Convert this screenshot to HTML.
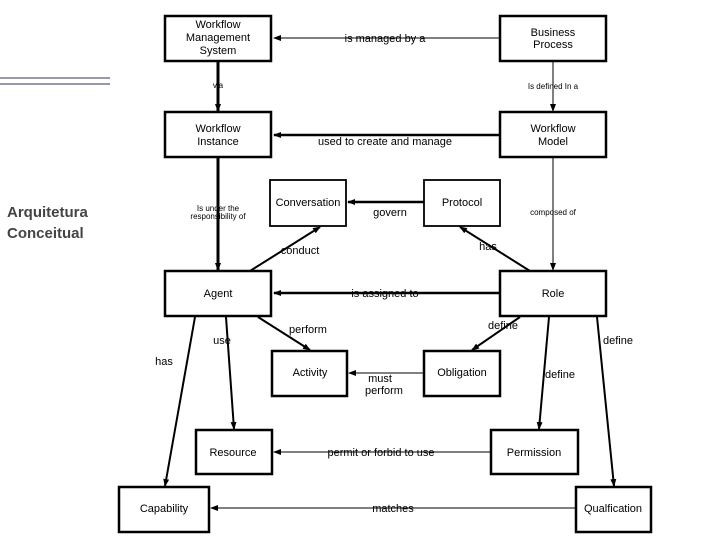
<!DOCTYPE html>
<html><head><meta charset="utf-8"><style>
html,body{margin:0;padding:0;background:#fff;width:720px;height:540px;overflow:hidden}
svg{display:block}
text{font-family:"Liberation Sans",sans-serif;fill:#000}
.t{font-size:11px;text-anchor:middle}
.s{font-size:8px;text-anchor:middle}
.l{font-size:11px;text-anchor:middle}
</style></head><body>
<svg width="720" height="540" viewBox="0 0 720 540">
<defs>
<marker id="a" markerWidth="8" markerHeight="6" refX="7" refY="3" orient="auto" markerUnits="userSpaceOnUse"><path d="M0,0 L8,3 L0,6 z" fill="#000"/></marker>
</defs>
<line x1="0" y1="78" x2="110" y2="78" stroke="#333355" stroke-width="1"/>
<line x1="0" y1="84" x2="110" y2="84" stroke="#333355" stroke-width="1"/>
<text x="7" y="217" style="font-size:15px;font-weight:bold;fill:#444">Arquitetura</text>
<text x="7" y="238" style="font-size:15px;font-weight:bold;fill:#444">Conceitual</text>

<g fill="#fff" stroke="#000" stroke-width="2.5">
<rect x="165" y="16" width="106" height="45"/>
<rect x="500" y="16" width="106" height="45"/>
<rect x="165" y="112" width="106" height="45"/>
<rect x="500" y="112" width="106" height="45"/>
<rect x="270" y="180" width="76" height="46" stroke-width="1.8"/>
<rect x="424" y="180" width="76" height="46" stroke-width="1.8"/>
<rect x="165" y="271" width="106" height="45"/>
<rect x="500" y="271" width="106" height="45"/>
<rect x="272" y="351" width="75" height="45"/>
<rect x="424" y="351" width="76" height="45"/>
<rect x="196" y="430" width="76" height="44"/>
<rect x="491" y="430" width="87" height="44"/>
<rect x="119" y="487" width="90" height="45"/>
<rect x="576" y="487" width="75" height="45"/>
</g>

<g stroke="#000" fill="none" marker-end="url(#a)">
<line x1="500" y1="38" x2="274" y2="38" stroke-width="1"/>
<line x1="218" y1="62" x2="218" y2="111" stroke-width="3"/>
<line x1="553" y1="62" x2="553" y2="111" stroke-width="1"/>
<line x1="500" y1="135" x2="274" y2="135" stroke-width="2.5"/>
<line x1="218" y1="158" x2="218" y2="270" stroke-width="3"/>
<line x1="553" y1="158" x2="553" y2="270" stroke-width="1"/>
<line x1="424" y1="202" x2="348" y2="202" stroke-width="2.5"/>
<line x1="250" y1="271" x2="320" y2="227" stroke-width="2"/>
<line x1="530" y1="271" x2="460" y2="227" stroke-width="2"/>
<line x1="500" y1="293" x2="274" y2="293" stroke-width="2.5"/>
<line x1="258" y1="317" x2="310" y2="350" stroke-width="2"/>
<line x1="520" y1="317" x2="472" y2="350" stroke-width="2"/>
<line x1="424" y1="373" x2="349" y2="373" stroke-width="1"/>
<line x1="226" y1="317" x2="234" y2="429" stroke-width="2"/>
<line x1="195" y1="317" x2="165" y2="486" stroke-width="2"/>
<line x1="549" y1="317" x2="539" y2="429" stroke-width="2"/>
<line x1="597" y1="317" x2="614" y2="486" stroke-width="2"/>
<line x1="491" y1="452" x2="274" y2="452" stroke-width="1"/>
<line x1="576" y1="508" x2="211" y2="508" stroke-width="1"/>
</g>

<text class="t" x="218" y="28">Workflow</text>
<text class="t" x="218" y="41">Management</text>
<text class="t" x="218" y="54">System</text>
<text class="t" x="553" y="36">Business</text>
<text class="t" x="553" y="48">Process</text>
<text class="t" x="218" y="132">Workflow</text>
<text class="t" x="218" y="145">Instance</text>
<text class="t" x="553" y="132">Workflow</text>
<text class="t" x="553" y="145">Model</text>
<text class="t" x="308" y="206">Conversation</text>
<text class="t" x="462" y="206">Protocol</text>
<text class="t" x="218" y="297">Agent</text>
<text class="t" x="553" y="297">Role</text>
<text class="t" x="310" y="376">Activity</text>
<text class="t" x="462" y="376">Obligation</text>
<text class="t" x="233" y="456">Resource</text>
<text class="t" x="534" y="456">Permission</text>
<text class="t" x="164" y="512">Capability</text>
<text class="t" x="613" y="512">Qualfication</text>

<text class="l" x="385" y="42">is managed by a</text>
<text class="s" x="218" y="88">via</text>
<text class="s" x="553" y="89">Is defined In a</text>
<text class="l" x="385" y="145">used to create and manage</text>
<text class="s" x="218" y="211">Is under the</text>
<text class="s" x="218" y="219">responsibility of</text>
<text class="s" x="553" y="215">composed of</text>
<text class="l" x="390" y="216">govern</text>
<text class="l" x="300" y="254">conduct</text>
<text class="l" x="488" y="250">has</text>
<text class="l" x="385" y="297">is assigned to</text>
<text class="l" x="308" y="333">perform</text>
<text class="l" x="503" y="329">define</text>
<text class="l" x="222" y="344">use</text>
<text class="l" x="164" y="365">has</text>
<text class="l" x="618" y="344">define</text>
<text class="l" x="380" y="382">must</text>
<text class="l" x="384" y="394">perform</text>
<text class="l" x="560" y="378">define</text>
<text class="l" x="381" y="456">permit or forbid to use</text>
<text class="l" x="393" y="512">matches</text>
</svg>
</body></html>
